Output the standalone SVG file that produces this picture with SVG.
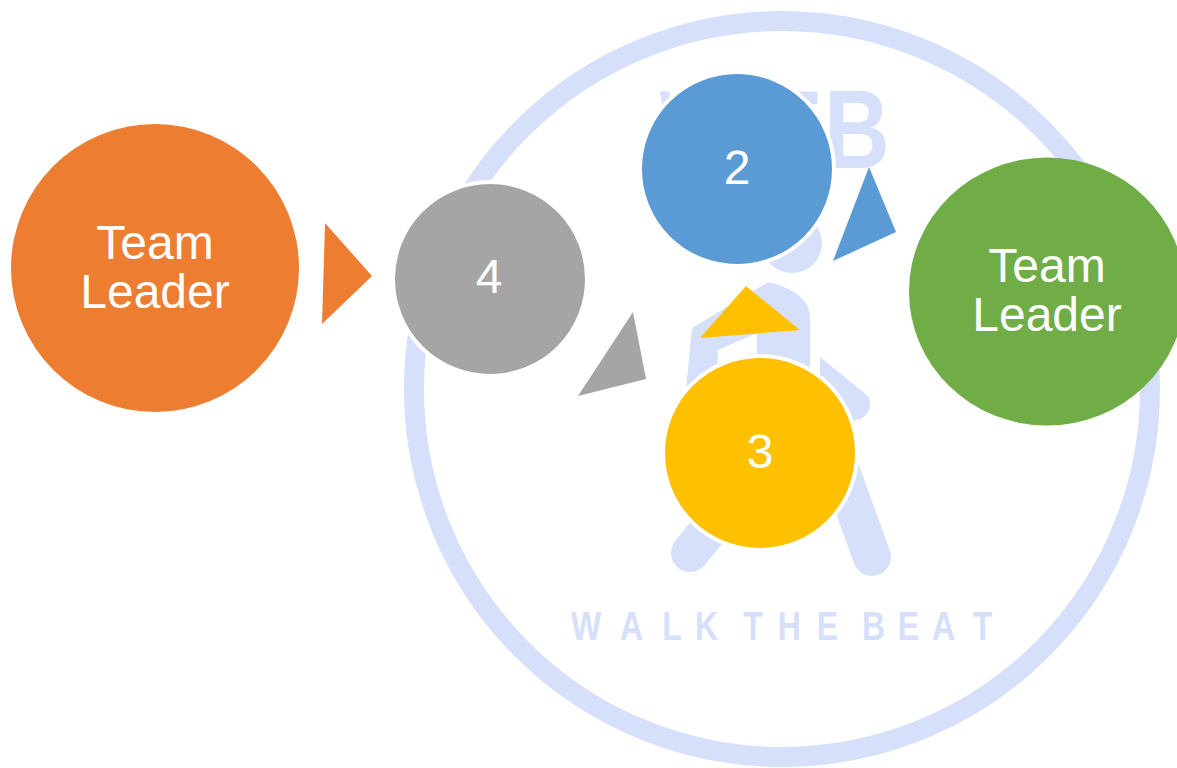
<svg xmlns="http://www.w3.org/2000/svg" width="1177" height="768" viewBox="0 0 1177 768">
<style>
.wm{fill:#d6e0fa}
.wml{fill:none;stroke:#d6e0fa;stroke-linecap:round}
.wt{font-family:"Liberation Sans",Arial,sans-serif;font-weight:700;fill:#d6e0fa}
.lab{font-family:"Liberation Sans",Arial,sans-serif;font-size:48px;fill:#fff;text-anchor:middle}
.ring{stroke:#fff;stroke-width:4}
</style>
<rect width="1177" height="768" fill="#fff"/>
<g id="watermark">
<circle cx="782" cy="389" r="368" fill="none" stroke="#d6e0fa" stroke-width="20"/>
<text class="wt" font-size="111" transform="translate(660 168) scale(.58 1)">W</text>
<text class="wt" font-size="111" transform="translate(752 168) scale(.98 1)">T</text>
<text class="wt" font-size="111" transform="translate(824 168) scale(.82 1)">B</text>
<circle cx="792" cy="243" r="30" class="wm"/>
<path class="wm" d="M692 328L768 282Q810 292 810 318V375H757V333L718 350L716 400H685Z"/>
<path class="wm" d="M820 357L868 396A16.500 16.500 0 0 1 845 418L820 375Z"/>
<line class="wml" stroke-width="38" x1="690" y1="553" x2="735" y2="497"/>
<line class="wml" stroke-width="38" x1="872" y1="557" x2="835" y2="455"/>
<text class="wt" y="640" font-size="41" transform="scale(.78 1)" x="732 795 849 891 953 997 1047 1105 1151 1195 1247">WALKTHEBEAT</text>
</g>
<g id="connectors">
<polygon fill="#ed7d31" points="325,223 372,276 322,324"/>
<polygon fill="#5b9bd5" points="869,167 896,232 833,261"/>
<polygon fill="#ffc000" points="746,286 800,330 700,338"/>
<polygon fill="#a5a5a5" points="633,312 646,379 578,396"/>
</g>
<g id="node-1">
<circle cx="155" cy="268" r="144" fill="#ed7d31"/>
<text class="lab" x="155" y="259">Team</text>
<text class="lab" x="155" y="308">Leader</text>
</g>
<g id="node-2">
<circle class="ring" cx="737" cy="169" r="97" fill="#5b9bd5"/>
<text class="lab" x="737" y="184">2</text>
</g>
<g id="node-3">
<circle class="ring" cx="760" cy="453" r="97" fill="#ffc000"/>
<text class="lab" x="760" y="468">3</text>
</g>
<g id="node-4">
<circle class="ring" cx="490" cy="279" r="97" fill="#a5a5a5"/>
<text class="lab" x="489" y="293">4</text>
</g>
<g id="node-5">
<ellipse cx="1047" cy="291.500" rx="138" ry="134" fill="#70ad47"/>
<text class="lab" x="1047" y="282">Team</text>
<text class="lab" x="1047" y="331">Leader</text>
</g>
</svg>
